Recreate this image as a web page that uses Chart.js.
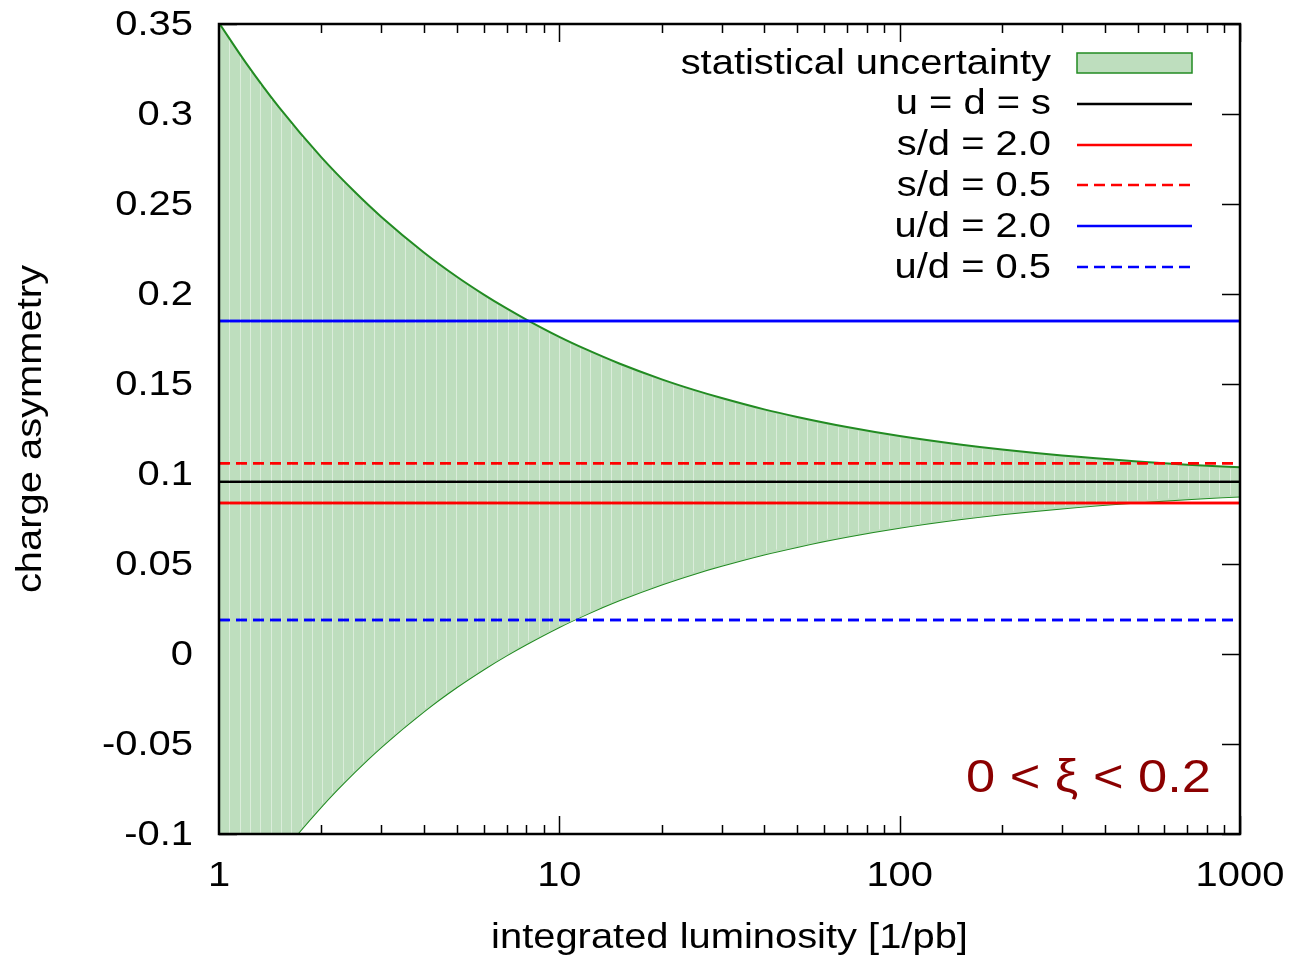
<!DOCTYPE html>
<html>
<head>
<meta charset="utf-8">
<script src="https://cdn.jsdelivr.net/npm/chart.js@4/dist/chart.umd.min.js"></script>
<style>
html,body{margin:0;padding:0;background:#fff;}
#wrap{width:1291px;height:959px;position:relative;}
</style>
</head>
<body>
<div id="wrap"><canvas id="c" width="1291" height="959"></canvas></div>
<script>
// ---- data ----
const lumi      = [1, 1.2, 1.5, 2, 2.5, 3, 4, 5, 6, 7, 8, 10, 12, 15, 20, 25, 30, 40, 50, 70, 100, 150, 200, 300, 500, 700, 1000];
const bandUpper = [0.3506, 0.3284, 0.3038, 0.2759, 0.2569, 0.2428, 0.2231, 0.2096, 0.1997, 0.1920, 0.1858, 0.1762, 0.1692, 0.1614, 0.1526, 0.1466, 0.1422, 0.1359, 0.1317, 0.1261, 0.1211, 0.1164, 0.1136, 0.1103, 0.1070, 0.1052, 0.1037];
const bandLower = [-0.1594, -0.1372, -0.1126, -0.0847, -0.0657, -0.0516, -0.0319, -0.0184, -0.0085, -0.0008, 0.0054, 0.0150, 0.0220, 0.0298, 0.0386, 0.0446, 0.0490, 0.0553, 0.0595, 0.0651, 0.0701, 0.0748, 0.0776, 0.0809, 0.0842, 0.0860, 0.0875];
const lineX      = [1, 1000];
const lineLabels = ['u = d = s', 's/d = 2.0', 's/d = 0.5', 'u/d = 2.0', 'u/d = 0.5'];
const lineValues = [0.0956, 0.0839, 0.106, 0.185, 0.0189];
const bandLabel  = 'statistical uncertainty';
const xTickValues = [1, 10, 100, 1000];
const xTitle = 'integrated luminosity [1/pb]';
const yTitle = 'charge asymmetry';
const annotation = '0 < \u03BE < 0.2';

const FONT = '"Liberation Sans", Arial, sans-serif';
const SX = 1.14; // horizontal stretch of the lettering
const lineColors = ['#000000', '#ff0000', '#ff0000', '#0000ff', '#0000ff'];
const lineDashes = [[], [], [11, 6], [], [11, 6]];
const bandFill = 'rgb(190,222,190)';
const bandEdge = '#228b22';

const datasets = [];
datasets.push({
  label: bandLabel,
  data: lumi.map((x, i) => ({x, y: bandUpper[i]})),
  borderColor: bandEdge, borderWidth: 2, pointRadius: 0,
  backgroundColor: bandFill, fill: '+1',
  cubicInterpolationMode: 'monotone', order: 2
});
datasets.push({
  label: '',
  data: lumi.map((x, i) => ({x, y: bandLower[i]})),
  borderColor: bandEdge, borderWidth: 2, pointRadius: 0, fill: false,
  cubicInterpolationMode: 'monotone', order: 2
});
lineLabels.forEach((lab, i) => {
  datasets.push({
    label: lab,
    data: lineX.map(x => ({x, y: lineValues[i]})),
    borderColor: lineColors[i], borderWidth: 2.4, borderDash: lineDashes[i],
    pointRadius: 0, fill: false, order: 1
  });
});

function txt(ctx, s, x, y, align, size, color, rot) {
  ctx.save();
  ctx.translate(x, y);
  if (rot) ctx.rotate(rot);
  ctx.scale(SX, 1);
  ctx.font = size + 'px ' + FONT;
  ctx.fillStyle = color || '#000';
  ctx.textAlign = align;
  ctx.textBaseline = 'middle';
  ctx.fillText(s, 0, 0);
  ctx.restore();
}

const decorPlugin = {
  id: 'decor',
  beforeDatasetsDraw(chart) {
    const {ctx, chartArea: a, scales: {x, y}} = chart;
    ctx.save();
    ctx.strokeStyle = '#000'; ctx.lineWidth = 1.5;
    y.ticks.forEach(t => {
      const py = Math.round(y.getPixelForValue(t.value)) + 0.5;
      ctx.beginPath();
      ctx.moveTo(a.left, py); ctx.lineTo(a.left + 18, py);
      ctx.moveTo(a.right, py); ctx.lineTo(a.right - 18, py);
      ctx.stroke();
    });
    for (let d = 1; d <= 1000; d *= 10) {
      for (let m = 1; m <= 9; m++) {
        const v = d * m;
        if (v > 1000) break;
        const px = Math.round(x.getPixelForValue(v)) + 0.5;
        const len = m === 1 ? 18 : 9;
        ctx.beginPath();
        ctx.moveTo(px, a.bottom); ctx.lineTo(px, a.bottom - len);
        ctx.moveTo(px, a.top); ctx.lineTo(px, a.top + len);
        ctx.stroke();
      }
    }
    ctx.restore();
  },
  afterDatasetsDraw(chart) {
    const {ctx, chartArea: a} = chart;
    const up = chart.getDatasetMeta(0).data, lo = chart.getDatasetMeta(1).data;
    const interp = (pts, px) => {
      for (let i = 0; i < pts.length - 1; i++) {
        if (px >= pts[i].x && px <= pts[i + 1].x) {
          const t = (px - pts[i].x) / (pts[i + 1].x - pts[i].x);
          return pts[i].y + t * (pts[i + 1].y - pts[i].y);
        }
      }
      return pts[pts.length - 1].y;
    };
    ctx.save();
    ctx.beginPath(); ctx.rect(a.left, a.top, a.right - a.left, a.bottom - a.top); ctx.clip();
    ctx.strokeStyle = 'rgba(255,255,255,0.45)'; ctx.lineWidth = 1;
    const step = (a.right - a.left) / 99;
    for (let k = 1; k < 99; k++) {
      const px = Math.round(a.left + k * step) + 0.5;
      const yu = interp(up, px) + 2, yl = interp(lo, px) - 2;
      if (yl > yu) { ctx.beginPath(); ctx.moveTo(px, yu); ctx.lineTo(px, yl); ctx.stroke(); }
    }
    ctx.restore();
    chart.data.datasets.forEach((ds, i) => {
      if (i >= 2) chart.getDatasetMeta(i).controller.draw();
    });
  },
  afterDraw(chart) {
    const {ctx, chartArea: a, scales: {x, y}} = chart;
    ctx.save();
    ctx.strokeStyle = '#000'; ctx.lineWidth = 2.5;
    ctx.strokeRect(a.left, a.top, a.right - a.left, a.bottom - a.top);
    ctx.restore();
    y.ticks.forEach(t => {
      txt(ctx, String(Number(t.value.toFixed(2))), 193, y.getPixelForValue(t.value) + 1, 'right', 35);
    });
    x.ticks.forEach(t => {
      txt(ctx, String(t.value), x.getPixelForValue(t.value), 876, 'center', 35);
    });
    txt(ctx, xTitle, (a.left + a.right) / 2, 938, 'center', 35);
    txt(ctx, yTitle, 31, (a.top + a.bottom) / 2, 'center', 35, '#000', -Math.PI / 2);
    const textX = 1051, s0 = 1077, s1 = 1192;
    const rowY = (i) => 63 + i * 40.8;
    txt(ctx, bandLabel, textX, rowY(0) + 1, 'right', 35);
    ctx.save();
    ctx.fillStyle = bandFill;
    ctx.fillRect(s0, rowY(0) - 10, s1 - s0, 20);
    ctx.strokeStyle = bandEdge; ctx.lineWidth = 1.5;
    ctx.strokeRect(s0, rowY(0) - 10, s1 - s0, 20);
    ctx.restore();
    lineLabels.forEach((lab, i) => {
      const yy = rowY(i + 1);
      txt(ctx, lab, textX, yy + 1, 'right', 35);
      ctx.save();
      ctx.strokeStyle = lineColors[i]; ctx.lineWidth = 2.4; ctx.setLineDash(lineDashes[i]);
      ctx.beginPath(); ctx.moveTo(s0, Math.round(yy)); ctx.lineTo(s1, Math.round(yy)); ctx.stroke();
      ctx.restore();
    });
    txt(ctx, annotation, 1211, 779, 'right', 46, '#8b0000');
  }
};

new Chart(document.getElementById('c'), {
  type: 'line',
  data: {datasets},
  plugins: [decorPlugin],
  options: {
    responsive: false, animation: false, devicePixelRatio: 1,
    layout: {padding: {top: 24, right: 51, left: 0, bottom: 0}},
    plugins: {legend: {display: false}, tooltip: {enabled: false}},
    scales: {
      x: {
        type: 'logarithmic', min: 1, max: 1000,
        afterBuildTicks(scale) { scale.ticks = xTickValues.map(v => ({value: v})); },
        afterFit(scale) { scale.height = 125; },
        grid: {display: false, drawTicks: false},
        border: {display: false},
        ticks: {display: false},
        title: {display: false}
      },
      y: {
        min: -0.1, max: 0.35,
        afterFit(scale) { scale.width = 219; },
        grid: {display: false, drawTicks: false},
        border: {display: false},
        ticks: {display: false, stepSize: 0.05},
        title: {display: false}
      }
    }
  }
});
</script>
</body>
</html>
